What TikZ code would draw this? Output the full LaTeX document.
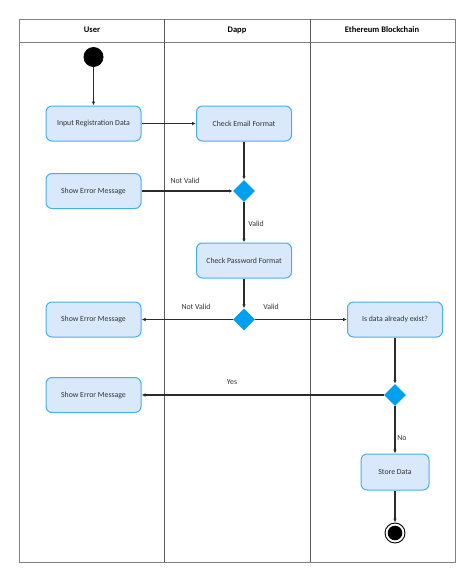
\documentclass[tikz,border=0pt]{standalone}
\usepackage{fontspec}
\setmainfont{Carlito}
\usetikzlibrary{arrows.meta,shapes.geometric}
\definecolor{boxfill}{HTML}{DAE8FC}
\definecolor{boxline}{HTML}{45B0F0}
\definecolor{dia}{HTML}{00A0F0}
\definecolor{edge}{HTML}{2B2B2B}
\definecolor{lanec}{HTML}{808080}
\definecolor{txt}{HTML}{333333}
\begin{document}
\begin{tikzpicture}[x=1pt,y=-1pt,
  act/.style={draw=boxline, fill=boxfill, rounded corners=6pt, line width=1pt,
    minimum width=95pt, minimum height=35pt, inner sep=1pt, font=\fontsize{7.8}{9}\selectfont, text=txt},
  dec/.style={diamond, fill=dia, minimum width=22pt, minimum height=22pt, inner sep=0pt},
  flow/.style={draw=edge, line width=1.1pt, -{Latex[length=4pt,width=3.5pt]}},
  lbl/.style={font=\fontsize{7.8}{9}\selectfont, text=txt, inner sep=1pt},
  head/.style={font=\fontsize{8.5}{10}\selectfont\bfseries, text=black, text height=6pt, text depth=2pt, inner sep=0pt},
  lanel/.style={draw=lanec, line width=1pt}]
\useasboundingbox (0,0) rectangle (474,581);
% swimlanes
\draw[lanel] (19,19) rectangle (455,562);
\draw[lanel] (19,42) -- (455,42);
\draw[draw=black!65, line width=1pt] (164.5,19) -- (164.5,562);
\draw[draw=black!65, line width=1pt] (310,19) -- (310,562);
\node[head] (hU) at (92,30) {User};
\node[head] (hD) at (237,30) {Dapp};
\node[head] (hE) at (382,30) {Ethereum Blockchain};
% nodes
\node[circle, fill=black, minimum size=20pt, inner sep=0pt] (start) at (93.5,57) {};
\node[act] (input) at (93.5,123.5) {Input Registration Data};
\node[act] (email) at (244,123.5) {Check Email Format};
\node[act] (err1) at (93.5,191) {Show Error Message};
\node[dec] (d1) at (244,191) {};
\node[act] (pwd) at (244,260.5) {Check Password Format};
\node[dec] (d2) at (244,319.5) {};
\node[act] (err2) at (93.5,319.5) {Show Error Message};
\node[act] (exist) at (395,319.5) {Is data already exist?};
\node[dec] (d3) at (395,395) {};
\node[act] (err3) at (93.5,395) {Show Error Message};
\node[act, minimum width=68pt, minimum height=36pt] (store) at (395,472) {Store Data};
\node[circle, draw=black, line width=0.9pt, minimum size=20pt, inner sep=0pt] (end) at (395,533) {};
\fill[black] (end.center) circle (7.3pt);
% edges
\draw[flow] (start) -- (input);
\draw[flow] (input) -- (email);
\draw[flow] (email) -- (d1);
\draw[flow] (err1) -- (d1);
\draw[flow] (d1) -- (pwd);
\draw[flow] (pwd) -- (d2);
\draw[flow] (d2) -- (err2);
\draw[flow] (d2) -- (exist);
\draw[flow] (exist) -- (d3);
\draw[flow] (d3) -- (err3);
\draw[flow] (d3) -- (store);
\draw[flow] (store) -- (end);
% labels
\node[lbl] (l1) at (185,181) {Not Valid};
\node[lbl] (l2) at (256,224) {Valid};
\node[lbl] (l3) at (196,307) {Not Valid};
\node[lbl] (l4) at (271,307) {Valid};
\node[lbl] (l5) at (232,382) {Yes};
\node[lbl] (l6) at (402,438) {No};
\end{tikzpicture}
\end{document}
